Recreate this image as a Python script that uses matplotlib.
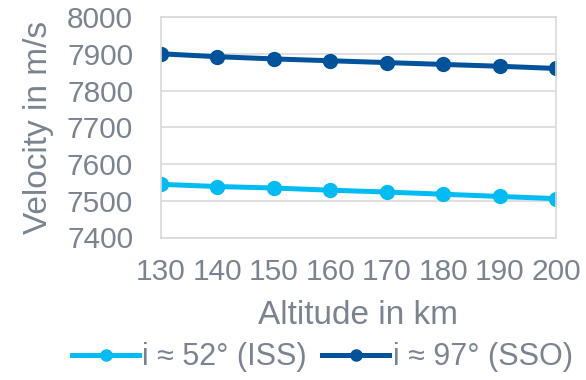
import matplotlib.pyplot as plt

plt.rcParams['font.family'] = ['Liberation Sans', 'DejaVu Sans']

altitude = [130, 140, 150, 160, 170, 180, 190, 200]
v_iss = [7545, 7539, 7535, 7529, 7524, 7518, 7512, 7506]
v_sso = [7901, 7893, 7887, 7882, 7877, 7872, 7867, 7861]
yticks = [7400, 7500, 7600, 7700, 7800, 7900, 8000]

grey = '#7a8491'
grid = '#d9d9d9'

fig = plt.figure(figsize=(5.86, 3.8), dpi=100)
ax = fig.add_axes([0.2747, 0.375, 0.674, 0.579])

ax.plot(altitude, v_iss, color='#00bcf2', lw=3.6, marker='o', ms=10, label='i ≈ 52° (ISS)')
ax.plot(altitude, v_sso, color='#00529b', lw=3.6, marker='o', ms=10, label='i ≈ 97° (SSO)')

ax.set_xlim(130, 200)
ax.set_ylim(7400, 8000)
ax.set_xticks(altitude)
ax.set_yticks(yticks)
ax.yaxis.grid(True, color=grid, lw=1.2)
ax.set_axisbelow(True)
for s in ax.spines.values():
    s.set_color(grid)
    s.set_linewidth(1.2)
ax.tick_params(length=0, labelsize=21.5, labelcolor=grey)
ax.tick_params(axis='y', pad=20)
ax.tick_params(axis='x', pad=15)
for lab in ax.get_xticklabels() + ax.get_yticklabels():
    lab.set_clip_on(False)

ax.set_xlabel('Altitude in km', fontsize=24, color=grey, labelpad=10)
ax.set_ylabel('Velocity in m/s', fontsize=24, color=grey, labelpad=9)

fig.legend(loc='center', bbox_to_anchor=(0.55, 0.06), ncol=2, frameon=False,
           fontsize=22, labelcolor=grey, handlelength=2.2, handletextpad=0.1,
           columnspacing=0.5, markerscale=0.8)

fig.savefig('out.png', dpi=100)
